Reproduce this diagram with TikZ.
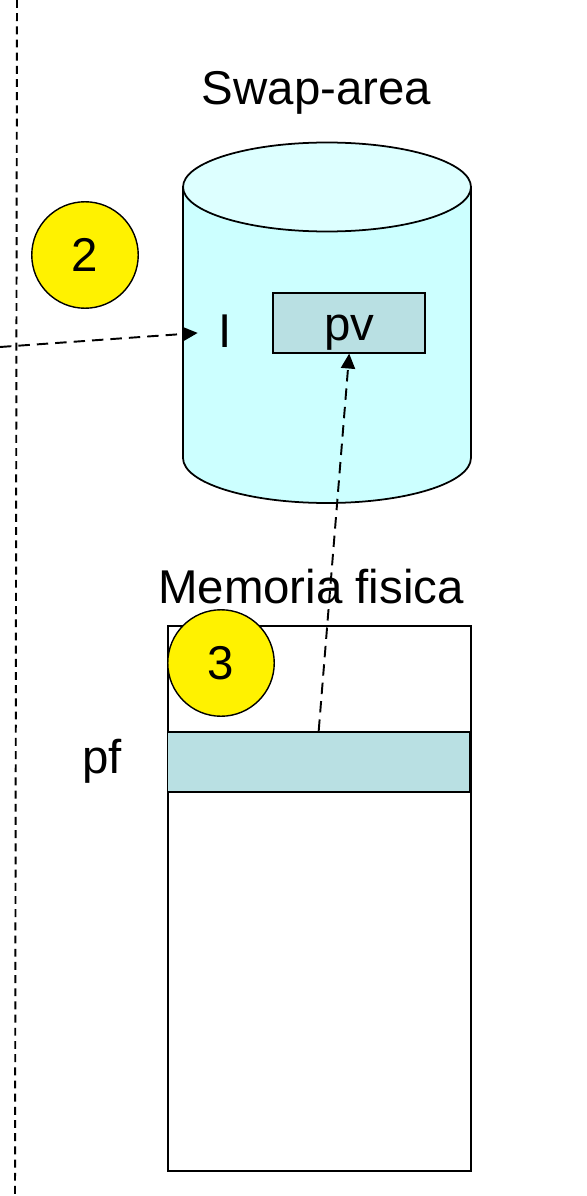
\documentclass[tikz,border=0pt]{standalone}
\usepackage{fontspec}
\setmainfont{Liberation Sans}
\usetikzlibrary{arrows.meta, positioning, shapes.geometric, calc}

\definecolor{diskbody}{HTML}{CCFFFF}
\definecolor{disktop}{HTML}{DDFFFF}
\definecolor{pagefill}{HTML}{B9E0E3}

\begin{document}
\begin{tikzpicture}[x=0.02cm, y=-0.02cm,
    every node/.style={font=\fontsize{27pt}{31pt}\selectfont},
    stepmark/.style={circle, draw, line width=0.8pt, fill=yellow, minimum size=2.13cm, inner sep=0pt},
    pagebox/.style={draw, line width=1pt, fill=pagefill, inner sep=0pt},
    flow/.style={line width=1.1pt, dash pattern=on 6.5pt off 4pt, -{Triangle[length=8.5pt, width=8pt]}}]
    \useasboundingbox (0,0) rectangle (587,1196);

    % Swap area (disk)
    \filldraw[fill=diskbody, line width=1pt] (183,187) -- (183,458)
        arc[start angle=180, end angle=360, x radius=2.88cm, y radius=0.9cm] -- (471,187) -- cycle;
    \filldraw[fill=disktop, line width=1pt] (327,187) ellipse[x radius=2.88cm, y radius=0.89cm];
    \node[anchor=base] (swaplbl) at (316.5,105) {Swap-area};
    \node[pagebox, minimum width=3.034cm, minimum height=1.2cm, text height=20.8pt, text depth=0pt] (pv) at (349.2,322.7) {pv};
    \node[inner ysep=0pt, inner xsep=11.6pt] (idx) at (225,331) {I};

    % Physical memory
    \node[draw, line width=1pt, minimum width=6.054cm, minimum height=10.9cm, anchor=north west, inner sep=0pt] (mem) at (167.3,625) {};
    \node[anchor=base] (memlbl) at (311,603) {Memoria fisica};
    \node[pagebox, minimum width=6.054cm, minimum height=1.2cm] (pf) at (318.7,761.7) {};
    \node[anchor=base] (pflbl) at (102,773) {pf};

    % Step markers
    \node[stepmark] (s2) at (85,255) {2};
    \node[stepmark] (s3) at (221,663) {3};

    % Dashed border and transfers
    \coordinate (vtop) at (17,0);
    \coordinate (vbot) at (15,1196);
    \draw[line width=1.1pt, dash pattern=on 4.5pt off 3pt] (vtop) -- (vbot);
    \coordinate (lstart) at (0,347);
    \draw[flow] (lstart) -- (idx);
    \draw[flow] (pf.north) -- (pv.south);
\end{tikzpicture}
\end{document}
